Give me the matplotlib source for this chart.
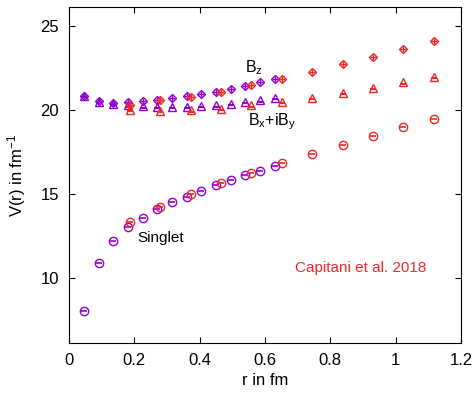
import matplotlib

matplotlib.use('Agg')

import matplotlib.pyplot as plt
import numpy as np

plt.rcParams['font.family'] = ['Liberation Sans', 'DejaVu Sans']
plt.rcParams['mathtext.fontset'] = 'custom'
plt.rcParams['mathtext.rm'] = 'Liberation Sans'
plt.rcParams['mathtext.it'] = 'Liberation Sans'

# fine lattice (purple)
r_fine = [0.046, 0.091, 0.136, 0.181, 0.226, 0.271, 0.316, 0.361, 0.405, 0.450, 0.495, 0.540, 0.585, 0.630]
singlet_fine = [7.99, 10.89, 12.20, 13.03, 13.56, 14.06, 14.48, 14.81, 15.17, 15.50, 15.78, 16.08, 16.34, 16.63]
bz_fine = [20.80, 20.49, 20.39, 20.45, 20.51, 20.59, 20.69, 20.78, 20.95, 21.07, 21.22, 21.43, 21.64, 21.81]
bxy_fine = [20.80, 20.45, 20.33, 20.25, 20.20, 20.17, 20.16, 20.18, 20.21, 20.25, 20.35, 20.45, 20.55, 20.69]

# coarse lattice (red)
r_coarse = [0.187, 0.279, 0.373, 0.466, 0.558, 0.653, 0.745, 0.838, 0.930, 1.024, 1.118]
singlet_coarse = [13.31, 14.22, 14.95, 15.60, 16.20, 16.79, 17.33, 17.88, 18.41, 18.95, 19.44]
bz_coarse = [20.30, 20.55, 20.75, 21.07, 21.44, 21.80, 22.23, 22.69, 23.12, 23.58, 24.07]
bxy_coarse = [19.99, 19.91, 19.95, 20.03, 20.25, 20.45, 20.69, 20.99, 21.28, 21.62, 21.95]

purple = '#9400d3'
red = '#f02828'


def draw_set(ax, r, ys, color):
    singlet, bz, bxy = ys
    ax.plot(r, singlet, 'o', ms=6, mfc='none', mec=color, mew=1.0)
    ax.plot(r, singlet, '_', ms=5, color=color, mew=1.2)
    ax.plot(r, bz, 'D', ms=4.5, mfc='none', mec=color, mew=1.0)
    ax.plot(r, bz, '+', ms=5, color=color, mew=1.0)
    ax.plot(r, bxy, '^', ms=6, mfc='none', mec=color, mew=1.0)
    ax.plot(r, np.array(bxy) - 0.08, '_', ms=5, color=color, mew=1.5)


fig = plt.figure(figsize=(4.75, 3.97), dpi=100)
ax = fig.add_axes([0.145, 0.136, 0.8255, 0.846])

draw_set(ax, r_fine, (singlet_fine, bz_fine, bxy_fine), purple)
draw_set(ax, r_coarse, (singlet_coarse, bz_coarse, bxy_coarse), red)

ax.set_xlim(0, 1.2)
ax.set_ylim(6.1, 26.1)
ax.set_xticks([0, 0.2, 0.4, 0.6, 0.8, 1.0, 1.2])
ax.set_xticklabels(['0', '0.2', '0.4', '0.6', '0.8', '1', '1.2'])
ax.set_yticks([10, 15, 20, 25])
ax.tick_params(direction='in', top=True, right=True, length=4, labelsize=12, pad=7)

ax.set_xlabel('r in fm', fontsize=12, labelpad=4)
ax.set_ylabel('V(r) in fm$^{-1}$', fontsize=12, labelpad=9)

ax.text(0.539, 22.23, 'B$_z$', fontsize=11.5, va='baseline')
ax.text(0.548, 19.07, 'B$_x$+iB$_y$', fontsize=11.5, va='baseline')
ax.text(0.211, 12.36, 'Singlet', fontsize=11, va='center')
ax.text(0.692, 10.58, 'Capitani et al. 2018', fontsize=11, va='center', color=red)

plt.savefig('out.png', dpi=100)
